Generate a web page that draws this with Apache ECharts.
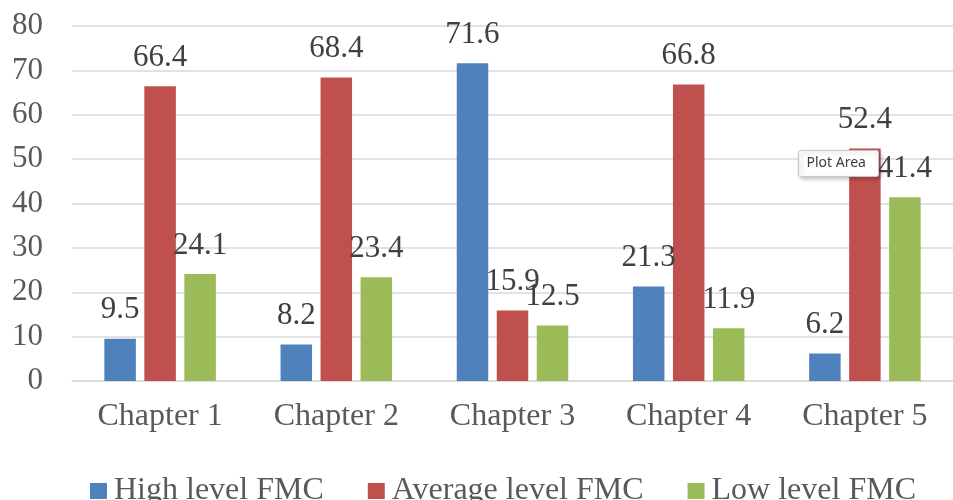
<!DOCTYPE html>
<html>
<head>
<meta charset="utf-8">
<title>FMC levels by chapter</title>
<script src="https://cdn.jsdelivr.net/npm/echarts@6/dist/echarts.min.js"></script>
<style>
  html, body { margin: 0; padding: 0; background: #ffffff; }
  #chart { width: 953px; height: 500px; }
</style>
</head>
<body>
<div id="chart"></div>
<script>
// Chapters on the x axis
const chapters = ['Chapter 1', 'Chapter 2', 'Chapter 3', 'Chapter 4', 'Chapter 5'];

// Share of students per FMC level in each chapter
const highLevel = [9.5, 8.2, 71.6, 21.3, 6.2];
const averageLevel = [66.4, 68.4, 15.9, 66.8, 52.4];
const lowLevel = [24.1, 23.4, 12.5, 11.9, 41.4];

const seriesNames = ['High level FMC', 'Average level FMC', 'Low level FMC'];
const seriesColors = ['#4f81bd', '#c0504d', '#9bbb59'];

// Value axis range
const yMin = 0;
const yMax = 80;
const yStep = 10;

const serif = '"Liberation Serif", "Times New Roman", "DejaVu Serif", serif';

const chart = echarts.init(document.getElementById('chart'), null, { renderer: 'canvas' });

function barSeries(name, data, color) {
  return {
    name: name,
    type: 'bar',
    data: data,
    barWidth: 31.5,
    barGap: '27%',
    itemStyle: { color: color },
    label: {
      show: true,
      position: 'top',
      distance: 13,
      fontFamily: serif,
      fontSize: 31,
      color: '#404040'
    },
    z: 2
  };
}

chart.setOption({
  animation: false,
  backgroundColor: '#ffffff',
  textStyle: { fontFamily: serif },
  grid: { left: 72, top: 26, width: 895, height: 355 },
  legend: {
    data: seriesNames,
    left: 85,
    top: 470,
    itemWidth: 17,
    itemHeight: 16,
    itemGap: 44,
    icon: 'rect',
    textStyle: {
      fontFamily: serif,
      fontSize: 32,
      color: '#595959',
      padding: [0, 0, 0, 2]
    }
  },
  xAxis: {
    type: 'category',
    data: chapters,
    axisTick: { show: false },
    axisLine: { lineStyle: { color: '#d9d9d9', width: 1.5 } },
    axisLabel: {
      margin: 20,
      fontFamily: serif,
      fontSize: 32,
      color: '#595959'
    }
  },
  yAxis: {
    type: 'value',
    min: yMin,
    max: yMax,
    interval: yStep,
    axisLine: { show: false },
    axisTick: { show: false },
    splitLine: { lineStyle: { color: '#d9d9d9', width: 1.5 } },
    axisLabel: {
      margin: 29,
      fontFamily: serif,
      fontSize: 31,
      color: '#595959'
    }
  },
  series: [
    barSeries(seriesNames[0], highLevel, seriesColors[0]),
    barSeries(seriesNames[1], averageLevel, seriesColors[1]),
    barSeries(seriesNames[2], lowLevel, seriesColors[2])
  ],
  graphic: [
    {
      // hover hint box over the plot area
      type: 'group',
      left: 798,
      top: 150,
      z: 100,
      zlevel: 1,
      children: [
        {
          type: 'rect',
          z: 100,
          zlevel: 1,
          shape: { x: 0, y: 0, width: 80, height: 26, r: 2 },
          style: {
            fill: '#ffffff',
            stroke: '#c8c8c8',
            lineWidth: 1,
            shadowBlur: 4,
            shadowOffsetX: 2,
            shadowOffsetY: 2,
            shadowColor: 'rgba(0,0,0,0.25)'
          }
        },
        {
          type: 'text',
          z: 101,
          zlevel: 1,
          x: 8,
          y: 13,
          style: {
            text: 'Plot Area',
            fontFamily: '"Noto Sans", "Open Sans", sans-serif',
            fontSize: 14,
            fill: '#3c3c3c',
            verticalAlign: 'middle'
          }
        }
      ]
    }
  ]
});
</script>
</body>
</html>
